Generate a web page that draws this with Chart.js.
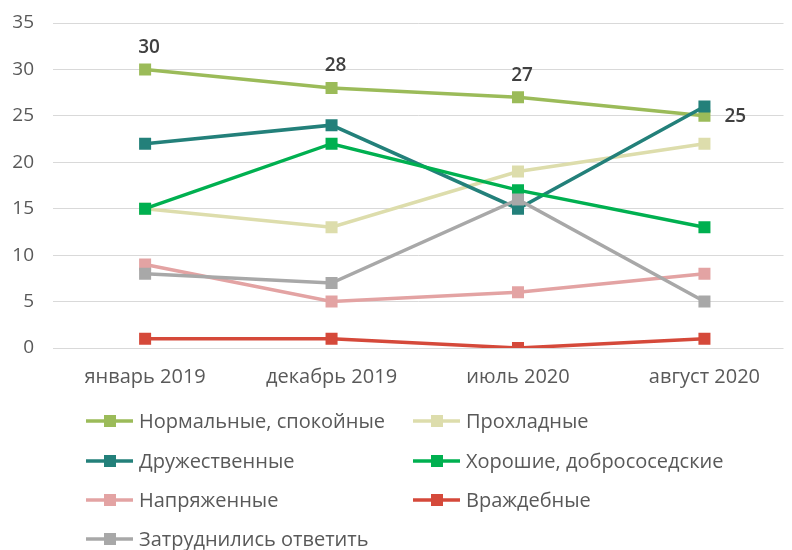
<!DOCTYPE html>
<html>
<head>
<meta charset="utf-8">
<script src="https://cdn.jsdelivr.net/npm/chart.js@4"></script>
<style>
html,body{margin:0;padding:0;background:#fff;}
#wrap{width:792px;height:550px;position:relative;}
</style>
</head>
<body>
<div id="wrap"><canvas id="c" width="792" height="550"></canvas></div>
<script>
const categories = ['январь 2019', 'декабрь 2019', 'июль 2020', 'август 2020'];
const yTicks = [0, 5, 10, 15, 20, 25, 30, 35];
const seriesNames = ['Нормальные, спокойные', 'Прохладные', 'Дружественные', 'Хорошие, добрососедские', 'Напряженные', 'Враждебные', 'Затруднились ответить'];
const normal = [30, 28, 27, 25];
const cool = [15, 13, 19, 22];
const friendly = [22, 24, 15, 26];
const good = [15, 22, 17, 13];
const tense = [9, 5, 6, 8];
const hostile = [1, 1, 0, 1];
const unsure = [8, 7, 16, 5];
const seriesValues = [normal, cool, friendly, good, tense, hostile, unsure];
const seriesColors = ['#9BBB59', '#DDDDAC', '#23807A', '#00B050', '#E3A3A3', '#D5493A', '#A8A8A8'];

const FONT = '"Open Sans", "Noto Sans", sans-serif';
const TXT = '#595959';

const datasets = seriesNames.map((n, i) => ({
  label: n,
  data: seriesValues[i].map((v, j) => ({ x: j, y: v })),
  borderColor: seriesColors[i],
  backgroundColor: seriesColors[i],
  borderWidth: 3.5,
  pointStyle: 'rect',
  pointRadius: 8.5,
  pointHoverRadius: 8.5,
  pointBorderWidth: 0,
  tension: 0,
  order: seriesNames.length - i
}));

const labelsPlugin = {
  id: 'valueLabels',
  afterDatasetsDraw(chart) {
    const ctx = chart.ctx;
    const meta = chart.getDatasetMeta(0);
    ctx.save();
    ctx.font = '600 19px ' + FONT;
    ctx.fillStyle = '#404040';
    ctx.textBaseline = 'middle';
    meta.data.forEach((pt, j) => {
      const v = normal[j];
      if (j === normal.length - 1) {
        ctx.textAlign = 'left';
        ctx.fillText(String(v), pt.x + 20, pt.y + 1);
      } else {
        ctx.textAlign = 'center';
        ctx.fillText(String(v), pt.x + 4, pt.y - 22);
      }
    });
    ctx.restore();
  }
};

const legendPlugin = {
  id: 'twoColLegend',
  afterDraw(chart) {
    const ctx = chart.ctx;
    const colX = [86, 413];
    const rowY = [421, 461, 500, 539];
    ctx.save();
    ctx.font = '20px ' + FONT;
    ctx.textBaseline = 'middle';
    ctx.textAlign = 'left';
    chart.data.datasets.forEach((ds, i) => {
      const x = colX[i % 2];
      const y = rowY[Math.floor(i / 2)];
      ctx.strokeStyle = ds.borderColor;
      ctx.lineWidth = 3.5;
      ctx.beginPath();
      ctx.moveTo(x, y);
      ctx.lineTo(x + 47, y);
      ctx.stroke();
      ctx.fillStyle = ds.backgroundColor;
      ctx.fillRect(x + 18, y - 6, 12, 12);
      ctx.fillStyle = TXT;
      ctx.fillText(ds.label, x + 53, y + 1);
    });
    ctx.restore();
  }
};

new Chart(document.getElementById('c'), {
  type: 'line',
  data: { datasets },
  options: {
    responsive: false,
    animation: false,
    events: [],
    layout: { padding: { top: 23, left: 0, right: 0, bottom: 144 } },
    plugins: { legend: { display: false }, tooltip: { enabled: false } },
    scales: {
      x: {
        type: 'linear',
        min: -0.494,
        max: 3.424,
        afterBuildTicks(scale) { scale.ticks = categories.map((c, j) => ({ value: j })); },
        afterFit(scale) { scale.paddingLeft = 0; scale.paddingRight = 0; },
        grid: { display: false, drawTicks: false },
        border: { display: false },
        ticks: {
          color: TXT, font: { family: FONT, size: 20 }, padding: 17,
          autoSkip: false, maxRotation: 0,
          callback: (v) => categories[v]
        }
      },
      y: {
        min: 0, max: 35,
        afterBuildTicks(scale) { scale.ticks = yTicks.map(v => ({ value: v })); },
        afterFit(scale) { scale.width = 53; scale.paddingTop = 0; scale.paddingBottom = 0; },
        grid: { color: '#D9D9D9', lineWidth: 1, drawTicks: false },
        border: { display: false },
        ticks: { color: TXT, font: { family: FONT, size: 19 }, padding: 19 }
      }
    }
  },
  plugins: [labelsPlugin, legendPlugin]
});
</script>
</body>
</html>
